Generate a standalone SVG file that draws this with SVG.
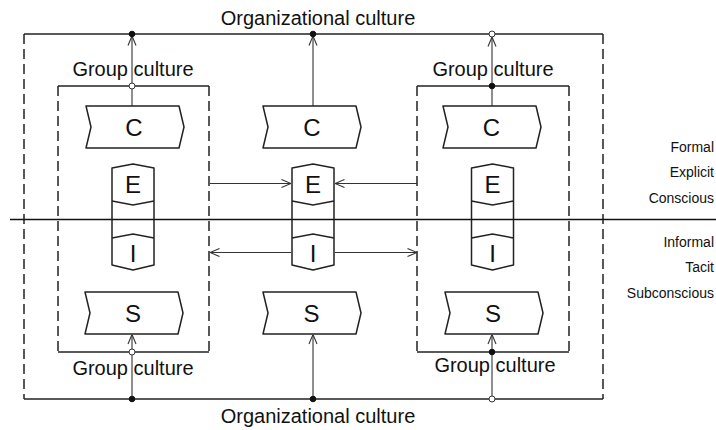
<svg xmlns="http://www.w3.org/2000/svg" width="716" height="430" viewBox="0 0 716 430">
<style>
.t{font-family:"Liberation Sans",Arial,sans-serif;fill:#111}
.big{font-size:20px;text-anchor:middle}
.let{font-size:24px;text-anchor:middle}
.side{font-size:14px;text-anchor:end}
.solid{fill:none;stroke:#222;stroke-width:1.5}
.dash{fill:none;stroke:#222;stroke-width:1.5;stroke-dasharray:10,5}
.shape{fill:#fff;stroke:#222;stroke-width:1.5;stroke-linejoin:round}
.conn{fill:none;stroke:#333;stroke-width:1.1}
.dot{fill:#111;stroke:#111;stroke-width:1}
.odot{fill:#fff;stroke:#333;stroke-width:1}
</style>
<defs>
<marker id="arr" viewBox="0 0 10 10" refX="10" refY="5" markerWidth="10" markerHeight="10" orient="auto" markerUnits="userSpaceOnUse">
<path d="M0.5,1 L10,5 L0.5,9" fill="none" stroke="#333" stroke-width="1.1"/>
</marker>
</defs>

<g id="org-culture">
<line class="solid" x1="24" y1="34" x2="603" y2="34"/>
<line class="solid" x1="24" y1="399" x2="603" y2="399"/>
<line class="dash" x1="24" y1="34" x2="24" y2="399"/>
<line class="dash" x1="603" y1="34" x2="603" y2="399"/>
<text class="t big" x="318" y="25">Organizational culture</text>
<text class="t big" x="318" y="423">Organizational culture</text>
</g>

<g id="group-left">
<line class="solid" x1="58" y1="86" x2="209" y2="86"/>
<line class="solid" x1="58" y1="352" x2="209" y2="352"/>
<line class="dash" x1="58" y1="86" x2="58" y2="352"/>
<line class="dash" x1="209" y1="86" x2="209" y2="352"/>
<text class="t big" x="133" y="76">Group culture</text>
<text class="t big" x="133" y="375">Group culture</text>
</g>

<g id="group-right">
<line class="solid" x1="417" y1="86" x2="569" y2="86"/>
<line class="solid" x1="417" y1="352" x2="569" y2="352"/>
<line class="dash" x1="417" y1="86" x2="417" y2="352"/>
<line class="dash" x1="569" y1="86" x2="569" y2="352"/>
<text class="t big" x="493" y="76">Group culture</text>
<text class="t big" x="495" y="372">Group culture</text>
</g>

<g id="divider">
<line x1="10" y1="219.5" x2="716" y2="219.5" stroke="#111" stroke-width="1.5"/>
</g>

<g id="connectors">
<line class="conn" x1="132" y1="106" x2="132" y2="36" marker-end="url(#arr)"/>
<line class="conn" x1="313" y1="106" x2="313" y2="36" marker-end="url(#arr)"/>
<line class="conn" x1="492" y1="106" x2="492" y2="37" marker-end="url(#arr)"/>
<line class="conn" x1="132" y1="399" x2="132" y2="334.5" marker-end="url(#arr)"/>
<line class="conn" x1="313" y1="399" x2="313" y2="334.5" marker-end="url(#arr)"/>
<line class="conn" x1="492" y1="396" x2="492" y2="334.5" marker-end="url(#arr)"/>
<line class="conn" x1="210" y1="183.5" x2="291" y2="183.5" marker-end="url(#arr)"/>
<line class="conn" x1="417" y1="183.5" x2="335" y2="183.5" marker-end="url(#arr)"/>
<line class="conn" x1="291" y1="252.5" x2="210" y2="252.5" marker-end="url(#arr)"/>
<line class="conn" x1="335" y1="252.5" x2="417" y2="252.5" marker-end="url(#arr)"/>
<circle class="dot" cx="132" cy="34" r="2.8"/>
<circle class="dot" cx="313" cy="34" r="2.8"/>
<circle class="odot" cx="492" cy="34" r="3"/>
<circle class="odot" cx="132" cy="86" r="3"/>
<circle class="dot" cx="492" cy="86" r="2.8"/>
<circle class="odot" cx="132" cy="352" r="3"/>
<circle class="dot" cx="492" cy="352" r="2.8"/>
<circle class="dot" cx="132" cy="399" r="2.8"/>
<circle class="dot" cx="313" cy="399" r="2.8"/>
<circle class="odot" cx="492" cy="399" r="3"/>
</g>

<g id="c-left">
<path class="shape" d="M86,106 L179,106 L184,127 L179,148 L86,148 L91,127 Z"/>
<text class="t let" x="134" y="135.5">C</text>
</g>
<g id="c-mid">
<path class="shape" d="M263,106 L356,106 L361,127 L356,148 L263,148 L268,127 Z"/>
<text class="t let" x="312" y="135.5">C</text>
</g>
<g id="c-right">
<path class="shape" d="M443,106 L536,106 L541,127 L536,148 L443,148 L448,127 Z"/>
<text class="t let" x="491.5" y="135.5">C</text>
</g>

<g id="s-left">
<path class="shape" d="M85,292 L178,292 L183,313 L178,334 L85,334 L90,313 Z"/>
<text class="t let" x="133" y="321.5">S</text>
</g>
<g id="s-mid">
<path class="shape" d="M263,292 L356,292 L361,313 L356,334 L263,334 L268,313 Z"/>
<text class="t let" x="311.5" y="321.5">S</text>
</g>
<g id="s-right">
<path class="shape" d="M445,292 L538,292 L543,313 L538,334 L445,334 L450,313 Z"/>
<text class="t let" x="493" y="321.5">S</text>
</g>

<g id="ei-left">
<path class="shape" d="M112,168 L133,164 L154,168 L154,265 L133,270 L112,265 Z"/>
<path class="solid" d="M112,201 L133,205 L154,201 M112,238 L133,234 L154,238"/>
<line x1="112" y1="219.5" x2="154" y2="219.5" stroke="#111" stroke-width="1.5"/>
<text class="t let" x="133" y="193">E</text>
<text class="t let" x="133" y="262">I</text>
</g>
<g id="ei-mid">
<path class="shape" d="M292,168 L313,164 L334,168 L334,265 L313,270 L292,265 Z"/>
<path class="solid" d="M292,201 L313,205 L334,201 M292,238 L313,234 L334,238"/>
<line x1="292" y1="219.5" x2="334" y2="219.5" stroke="#111" stroke-width="1.5"/>
<text class="t let" x="313" y="193">E</text>
<text class="t let" x="313" y="262">I</text>
</g>
<g id="ei-right">
<path class="shape" d="M471.5,168 L492.5,164 L513.5,168 L513.5,265 L492.5,270 L471.5,265 Z"/>
<path class="solid" d="M471.5,201 L492.5,205 L513.5,201 M471.5,238 L492.5,234 L513.5,238"/>
<line x1="471.5" y1="219.5" x2="513.5" y2="219.5" stroke="#111" stroke-width="1.5"/>
<text class="t let" x="492.5" y="193">E</text>
<text class="t let" x="492.5" y="262">I</text>
</g>

<g id="labels-upper">
<text class="t side" x="714" y="152">Formal</text>
<text class="t side" x="714" y="177">Explicit</text>
<text class="t side" x="714" y="203">Conscious</text>
</g>
<g id="labels-lower">
<text class="t side" x="714" y="247">Informal</text>
<text class="t side" x="714" y="272">Tacit</text>
<text class="t side" x="714" y="298">Subconscious</text>
</g>
</svg>
